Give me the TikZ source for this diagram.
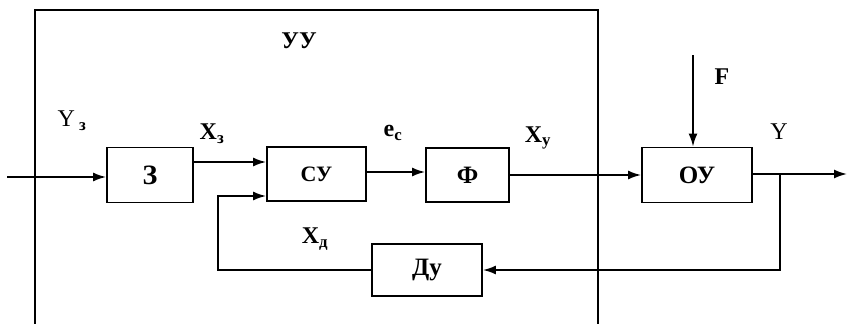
\documentclass[tikz,border=0pt]{standalone}
\usepackage{fontspec}
\setmainfont{Liberation Serif}
\usetikzlibrary{arrows.meta}
\tikzset{
  blk/.style={draw, line width=1.8pt, rectangle, inner sep=0pt, font=\fontsize{25}{27}\selectfont\bfseries},
  arr/.style={line width=1.8pt, -{Latex[length=13pt,width=9pt]}},
  ln/.style={line width=1.8pt},
  lbl/.style={font=\fontsize{24}{26}\selectfont\bfseries, inner sep=0pt},
  lblr/.style={font=\fontsize{24}{26}\selectfont, inner sep=0pt}
}
\begin{document}
\begin{tikzpicture}[x=1pt,y=-1pt]
\useasboundingbox (0,0) rectangle (847,324);
% frame of control device
\draw[ln] (35,324) -- (35,10) -- (598,10) -- (598,324);
% blocks
\node[blk, minimum width=86pt, minimum height=55pt, font=\fontsize{28}{30}\selectfont\bfseries] (z) at (150,175) {З};
\node[blk, minimum width=99pt, minimum height=54pt, font=\fontsize{22}{24}\selectfont\bfseries] (su) at (316.5,174) {СУ};
\node[blk, minimum width=83pt, minimum height=54pt] (f) at (467.5,175) {Ф};
\node[blk, minimum width=110pt, minimum height=55pt] (ou) at (697,175) {ОУ};
\node[blk, minimum width=110pt, minimum height=52pt] (du) at (427,270) {Ду};
% coordinates
\coordinate (in) at (7,177);
\coordinate (out) at (847,174);
\coordinate (br) at (780,174);
\coordinate (fb) at (218,270);
\coordinate (ftop) at (693,55);
% connectors
\draw[arr] (in) -- (z.west |- in);
\draw[arr] ([yshift=13pt]z.east) -- ([yshift=13pt]z.east -| su.west);
\draw[arr] ([yshift=2pt]su.east) -- ([yshift=2pt]su.east -| f.west);
\draw[arr] (f.east) -- (ou.west);
\draw[arr] ([yshift=1pt]ou.east) -- (out);
\draw[arr] (br) |- (du.east);
\draw[arr] (du.west) -| (fb) |- ([yshift=-22pt]su.west);
\draw[arr] (ftop) -- (ou.north -| ftop);
% labels
\node[lbl] (luu) at (299,41) {УУ};
\node[lblr] (lyz) at (72,121) {Y\,\textbf{\textsubscript{з}}};
\node[lbl] (lxz) at (212,134) {X\textsubscript{з}};
\node[lbl] (lec) at (393,133) {e\textsubscript{с}};
\node[lbl] (lxy) at (538,138) {X\textsubscript{у}};
\node[lbl] (lxd) at (315,239) {X\textsubscript{д}};
\node[lbl] (lf) at (722,77) {F};
\node[lblr] (ly) at (779,132) {Y};
\end{tikzpicture}
\end{document}
